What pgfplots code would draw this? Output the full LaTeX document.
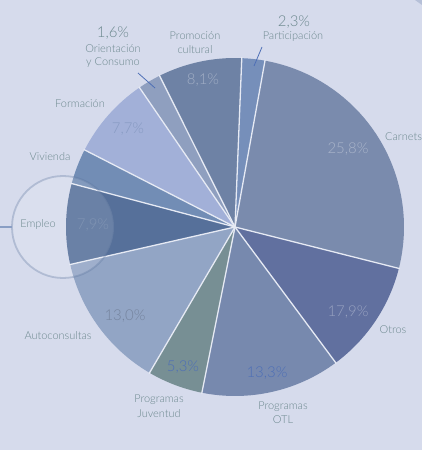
\documentclass[border=0pt]{standalone}
\usepackage{pgfplots}
\usepackage{pgfplotstable}
\pgfplotsset{compat=1.18}
\usepackage{fontspec}
\setmainfont{Lato Light}

\definecolor{bg}{HTML}{D6DBEC}
\definecolor{txt}{HTML}{6C888E}
\definecolor{lead}{HTML}{4E6FB6}
\definecolor{sep}{HTML}{E6EAF4}
\definecolor{cPart}{HTML}{768FBA}
\definecolor{cCarn}{HTML}{7A8BAD}
\definecolor{cOtro}{HTML}{61709F}
\definecolor{cOTL}{HTML}{7789AE}
\definecolor{cJuv}{HTML}{778F94}
\definecolor{cAuto}{HTML}{92A5C5}
\definecolor{cEmpl}{HTML}{56709A}
\definecolor{cVivi}{HTML}{728DB5}
\definecolor{cForm}{HTML}{A2B0D8}
\definecolor{cOrie}{HTML}{8F9FBF}
\definecolor{cProm}{HTML}{6E82A5}

\tikzset{
  lab/.style={font=\fontsize{11}{12}\selectfont, text=txt, align=center, inner sep=0pt},
  pct/.style={font=\fontsize{15}{16}\selectfont, align=center, inner sep=0pt},
}

% shares as drawn (percent of the circle), clockwise from the top
\pgfplotstableread{
name          share col
Participacion 2.2   cPart
Carnets       26.1  cCarn
Otros         10.9  cOtro
OTL           13.3  cOTL
Juventud      5.3   cJuv
Autoconsultas 13.0  cAuto
Empleo        7.7   cEmpl
Vivienda      3.4   cVivi
Formacion     7.9   cForm
Orientacion   2.2   cOrie
Promocion     8.0   cProm
}\piedata

\begin{document}
\begin{tikzpicture}
\useasboundingbox (0,0) rectangle (422bp,450bp);
\clip (0,0) rectangle (422bp,450bp);
\fill[bg] (0,0) rectangle (422bp,450bp);
\fill[cOrie!45!bg] (415bp,450bp) -- (422bp,450bp) -- (422bp,445bp) -- cycle;
\begin{axis}[
  scale only axis,
  width=422bp, height=450bp,
  xmin=0, xmax=422, ymin=0, ymax=450,
  hide axis,
  clip=false,
]
\addplot[draw=none] coordinates {(0,0)(422,450)};
% wedges
\pgfplotstablegetrowsof{\piedata}
\pgfmathtruncatemacro\nrows{\pgfplotsretval-1}
\def\acc{87.7}
\pgfplotsforeachungrouped \i in {0,...,\nrows}{
  \pgfplotstablegetelem{\i}{share}\of\piedata \let\sh\pgfplotsretval
  \pgfplotstablegetelem{\i}{col}\of\piedata \let\cl\pgfplotsretval
  \pgfmathsetmacro\aend{\acc-3.6*\sh}
  \edef\tmp{\noexpand\fill[\cl] (axis cs:235,223) -- ++(\acc:169bp) arc[start angle=\acc, end angle=\aend, radius=169bp] -- cycle;}
  \tmp
  \let\acc\aend
}
% separators
\def\acc{87.7}
\pgfplotsforeachungrouped \i in {0,...,\nrows}{
  \pgfplotstablegetelem{\i}{share}\of\piedata \let\sh\pgfplotsretval
  \edef\tmp{\noexpand\draw[sep, line width=1.3pt] (axis cs:235,223) -- ++(\acc:170bp);}
  \tmp
  \pgfmathsetmacro\aend{\acc-3.6*\sh}
  \let\acc\aend
}
% Empleo highlight
\fill[white, opacity=0.12] (axis cs:63,223) circle[radius=51bp];
\draw[cEmpl, opacity=0.3, line width=1.8pt] (axis cs:63,223) circle[radius=51bp];
\draw[cPart!80!bg, line width=1.5pt] (axis cs:0,223) -- (axis cs:12,223);
% leader lines
\draw[lead, line width=0.8pt] (axis cs:138,377) -- (axis cs:155,362);
\draw[lead, line width=0.8pt] (axis cs:262,403) -- (axis cs:254,384);
% category labels
\node[pct, text=txt] at (axis cs:113,417) {1,6\%};
\node[lab] at (axis cs:113,401) {Orientación};
\node[lab] at (axis cs:113,387) {y Consumo};
\node[lab] at (axis cs:195,414) {Promoción};
\node[lab] at (axis cs:195,400) {cultural};
\node[pct, text=txt] at (axis cs:294,428) {2,3\%};
\node[lab] at (axis cs:293,413) {Participación};
\node[lab, anchor=west] at (axis cs:385,313) {Carnets};
\node[lab] at (axis cs:80,346) {Formación};
\node[lab] at (axis cs:50,293) {Vivienda};
\node[lab] at (axis cs:38,226) {Empleo};
\node[lab] at (axis cs:58,114) {Autoconsultas};
\node[lab] at (axis cs:159,50) {Programas};
\node[lab] at (axis cs:159,36) {Juventud};
\node[lab] at (axis cs:283,43) {Programas};
\node[lab] at (axis cs:283,30) {OTL};
\node[lab] at (axis cs:393,120) {Otros};
% percentage labels inside wedges
\node[pct, text=cProm!65!white] at (axis cs:203,370) {8,1\%};
\node[pct, text=cCarn!65!white] at (axis cs:348,301) {25,8\%};
\node[pct, text=cForm!65!cEmpl] at (axis cs:128,321) {7,7\%};
\node[pct, text=cEmpl!75!white] at (axis cs:93,225) {7,9\%};
\node[pct, text=cAuto!80!black] at (axis cs:125,134) {13,0\%};
\node[pct, text=lead] at (axis cs:183,83) {5,3\%};
\node[pct, text=lead] at (axis cs:267,77) {13,3\%};
\node[pct, text=cOtro!65!white] at (axis cs:348,138) {17,9\%};
\end{axis}
\end{tikzpicture}
\end{document}
